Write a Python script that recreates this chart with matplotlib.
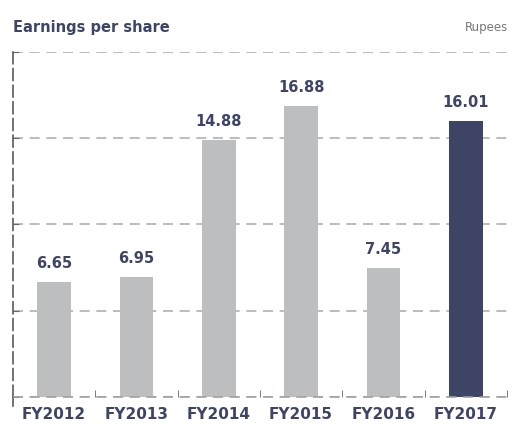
import matplotlib
matplotlib.use("Agg")
import matplotlib.pyplot as plt
import numpy as np

years = ["FY2012", "FY2013", "FY2014", "FY2015", "FY2016", "FY2017"]
eps = [6.65, 6.95, 14.88, 16.88, 7.45, 16.01]
bar_colors = ["#bdbec0"] * 5 + ["#3e4465"]

navy = "#3e4465"
plt.rcParams["font.family"] = ["DejaVu Sans"]

fig = plt.figure(figsize=(5.11, 4.41), dpi=100)
ax = fig.add_axes([0.0254, 0.0998, 0.9666, 0.7823])

x = np.arange(len(years))
ax.bar(x, eps, width=0.41, color=bar_colors, zorder=3)

for xi, v in zip(x, eps):
    ax.text(xi, v + 0.65, f"{v:.2f}", ha="center", va="bottom",
            fontsize=10.5, fontweight="bold", color=navy)

ax.set_xlim(-0.5, 5.5)
ax.set_ylim(0, 20)
ax.set_yticks([0, 5, 10, 15, 20])
ax.set_yticklabels([])
ax.set_xticks(x)
ax.set_xticklabels(years, fontsize=11, fontweight="bold", color=navy)
ax.tick_params(axis="x", length=0, pad=7)
ax.set_xticks(np.arange(0.5, 6, 1), minor=True)
ax.tick_params(axis="x", which="minor", direction="in", length=5, color="#666666")
ax.tick_params(axis="y", direction="in", length=4, color="#666666")

ax.grid(axis="y", color="#b0b0b0", linestyle=(0, (6, 4)), linewidth=1.2, zorder=0)
ax.axhline(0, color="#a0a0a0", linestyle=(0, (6, 4)), linewidth=1.2,
           zorder=4, clip_on=False)
for s in ["top", "right", "bottom"]:
    ax.spines[s].set_visible(False)
ax.spines["left"].set_linestyle((0, (7, 3)))
ax.spines["left"].set_color("#5a5a5a")
ax.spines["left"].set_linewidth(1.2)
ax.plot([-0.5, -0.5], [0, -0.5], color="#5a5a5a", lw=1.2, clip_on=False)

fig.text(0.0254, 0.937, "Earnings per share", fontsize=10.5, fontweight="bold",
         color=navy, ha="left", va="center")
fig.text(0.994, 0.937, "Rupees", fontsize=8.5, color="#777777",
         ha="right", va="center")

plt.savefig("out.png", dpi=100)
